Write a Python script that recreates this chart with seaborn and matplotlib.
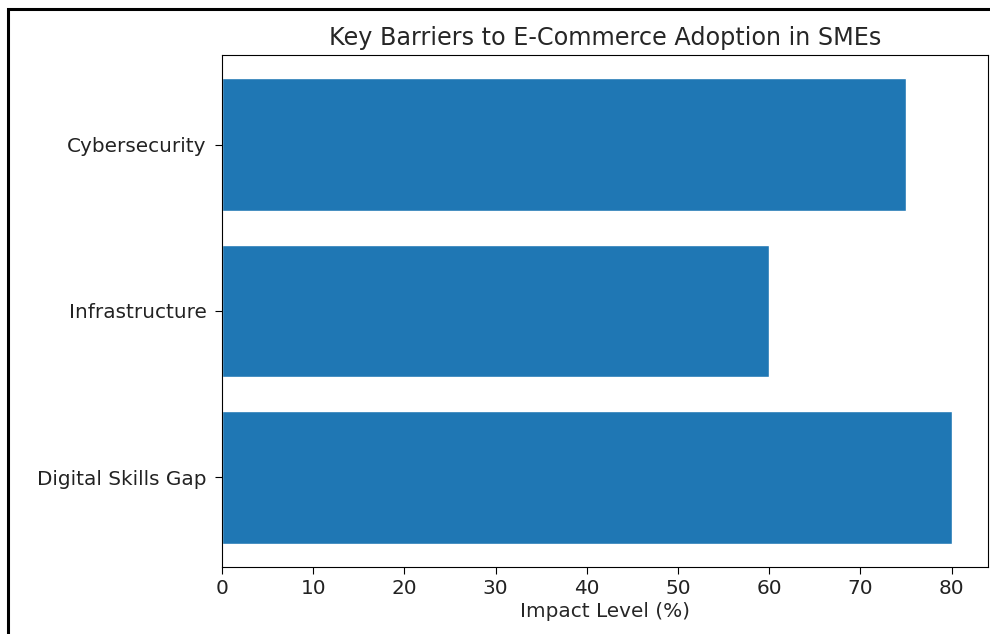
import matplotlib
matplotlib.use("Agg")
import matplotlib.pyplot as plt
import matplotlib.patches as mpatches
import pandas as pd
import seaborn as sns

# data
barriers = ['Cybersecurity', 'Infrastructure', 'Digital Skills Gap']
impact = [75, 60, 80]

sns.set_style("ticks")
plt.rcParams['font.family'] = ['DejaVu Sans']

df = pd.DataFrame({'Barrier': barriers, 'Impact': impact})

fig = plt.figure(figsize=(9.9, 6.34), dpi=100)
ax = fig.add_axes([222/990, 1-567/634, (988-222)/990, (567-55)/634])

sns.barplot(data=df, x='Impact', y='Barrier', order=barriers, orient='h',
            color='#1f77b4', saturation=1, width=0.8, ax=ax)

n = len(barriers)
ax.set_ylim(n - 1 + 0.4 + 0.14, -0.4 - 0.14)
ax.set_xlim(0, max(impact) * 1.05)
ax.set_xticks(range(0, 81, 10))

ax.set_title('Key Barriers to E-Commerce Adoption in SMEs', fontsize=17.2, pad=7)
ax.set_xlabel('Impact Level (%)', fontsize=14.4, labelpad=3)
ax.set_ylabel('')
ax.tick_params(labelsize=14.4, length=5, color='black', labelcolor='#222222')
ax.tick_params(axis='y', pad=6)
for s in ax.spines.values():
    s.set_color('black')

# screenshot frame
fig.patches.append(mpatches.Rectangle((8/990, -0.2), 1.5, 1.2 - 9/634, fill=False,
                                      lw=2.2, ec='black', transform=fig.transFigure))

plt.savefig('out.png', dpi=100)
